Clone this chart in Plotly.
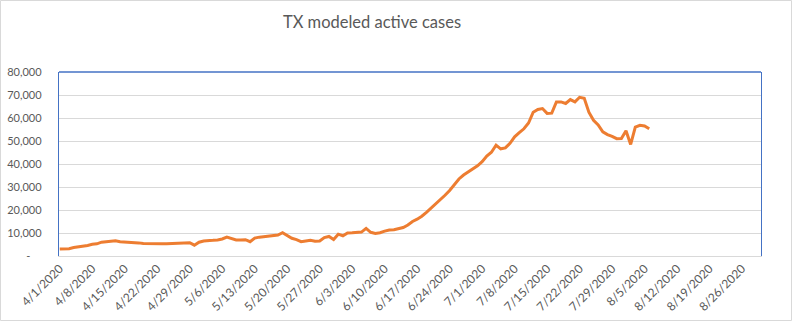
import pandas as pd
import plotly.graph_objects as go

title = "TX modeled active cases"
start_date = "2020-04-01"
active_cases = [
    3000, 3000, 3200, 3700, 3900, 4100, 4600, 5100, 5300, 6000,
    6200, 6500, 6600, 6200, 6100, 6100, 5900, 5700, 5400, 5300,
    5300, 5300, 5300, 5300, 5400, 5700, 5800, 5800, 5800, 4700,
    6000, 6500, 6500, 6800, 7000, 7400, 8200, 7500, 7000, 7000,
    7100, 6200, 7800, 8200, 8400, 8700, 9100, 9100, 10100, 8800,
    7700, 7100, 6200, 6500, 6800, 6400, 6500, 8000, 8500, 7200,
    9500, 8800, 10000, 10100, 10100, 10400, 12000, 10300, 9800, 10100,
    10800, 11300, 11400, 12000, 12400, 13500, 15000, 16000, 17300, 19000,
    20800, 22700, 24800, 26400, 28500, 31200, 33500, 35200, 36500, 37600,
    39200, 41000, 43500, 45100, 48200, 46600, 47000, 49000, 51800, 53600,
    55300, 57800, 62500, 63700, 64100, 62000, 62100, 67000, 67000, 66300,
    68000, 67000, 69000, 68600, 62500, 59000, 57000, 54000, 52800, 52000,
    51000, 51100, 54500, 48500, 56000, 56800, 56500, 55300,
]
x_tick_dates = ["2020-04-01", "2020-04-08", "2020-04-15", "2020-04-22", "2020-04-29",
                "2020-05-06", "2020-05-13", "2020-05-20", "2020-05-27", "2020-06-03",
                "2020-06-10", "2020-06-17", "2020-06-24", "2020-07-01", "2020-07-08",
                "2020-07-15", "2020-07-22", "2020-07-29", "2020-08-05", "2020-08-12",
                "2020-08-19", "2020-08-26"]
x_tick_labels = ["4/1/2020", "4/8/2020", "4/15/2020", "4/22/2020", "4/29/2020",
                 "5/6/2020", "5/13/2020", "5/20/2020", "5/27/2020", "6/3/2020",
                 "6/10/2020", "6/17/2020", "6/24/2020", "7/1/2020", "7/8/2020",
                 "7/15/2020", "7/22/2020", "7/29/2020", "8/5/2020", "8/12/2020",
                 "8/19/2020", "8/26/2020"]
y_tick_vals = [0, 10000, 20000, 30000, 40000, 50000, 60000, 70000, 80000]
y_tick_labels = ["-    ", "10,000", "20,000", "30,000", "40,000", "50,000", "60,000", "70,000", "80,000"]

dates = pd.date_range(start_date, periods=len(active_cases), freq="D")

W, H = 792, 321
L, R, T, B = 59, 31, 72, 65
pw, ph = W - L - R, H - T - B

FONT = "Lato"
TXT = "#595959"

fig = go.Figure()
fig.add_trace(go.Scatter(
    x=dates, y=active_cases, mode="lines",
    line=dict(color="#ED7D31", width=3, shape="linear"),
    hoverinfo="x+y", showlegend=False,
))

fig.update_layout(
    width=W, height=H,
    margin=dict(l=L, r=R, t=T, b=B, pad=0, autoexpand=False),
    paper_bgcolor="white", plot_bgcolor="white",
    title=dict(text=title, x=372 / W, xanchor="center", y=1 - 22 / H, yanchor="middle",
               font=dict(family=FONT, size=16.5, color=TXT, weight=400)),
    xaxis=dict(
        type="date", automargin=False,
        range=["2020-03-31 20:00", "2020-08-30 02:00"],
        tickvals=x_tick_dates, ticktext=x_tick_labels,
        tickangle=-45, showgrid=False, zeroline=False,
        showline=True, linecolor="#D9D9D9", linewidth=1,
        ticks="", tickfont=dict(family=FONT, size=12, color=TXT),
    ),
    yaxis=dict(
        automargin=False,
        range=[0, 80000], tickvals=y_tick_vals, ticktext=y_tick_labels,
        showgrid=True, gridcolor="#D9D9D9", gridwidth=1, zeroline=False,
        showline=True, mirror=True, linecolor="#4472C4", linewidth=1.3,
        ticks="", ticklen=0, ticklabelstandoff=14,
        tickfont=dict(family=FONT, size=11, color=TXT),
    ),
    shapes=[
        dict(type="line", xref="paper", yref="paper", x0=0, x1=1, y0=1, y1=1,
             line=dict(color="#4472C4", width=1.3), layer="above"),
        dict(type="rect", xref="paper", yref="paper",
             x0=(-L + 0.5) / pw, x1=(pw + R - 0.5) / pw,
             y0=(-B + 0.5) / ph, y1=(ph + T - 0.5) / ph,
             line=dict(color="#D9D9D9", width=1), layer="below"),
    ],
)

fig.write_html("out.html")
